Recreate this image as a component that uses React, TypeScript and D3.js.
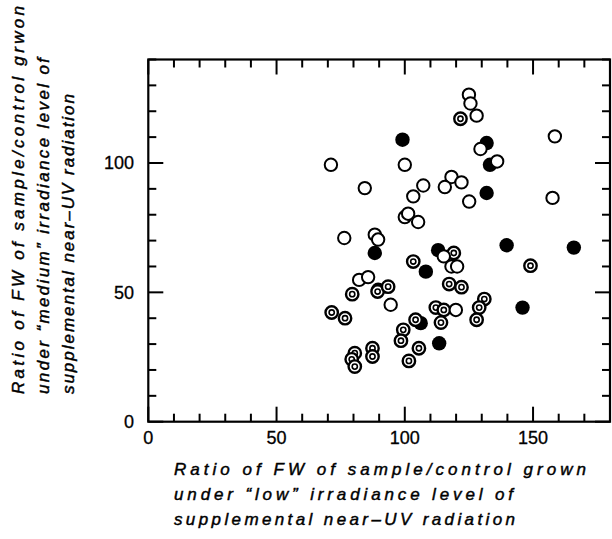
import React from "react";
import * as d3 from "d3";

const openPts: [number, number][] = [
  [71.2, 99.3], [84.4, 90.3], [76.4, 71.0], [88.3, 72.3], [89.6, 70.4],
  [100.0, 99.3], [107.2, 91.3], [103.3, 87.1], [100.0, 79.1], [101.3, 80.4],
  [105.2, 77.2], [125.0, 126.4], [125.6, 123.0], [128.0, 118.3], [129.5, 105.4],
  [136.0, 100.6], [118.2, 94.6], [122.1, 92.5], [115.6, 90.7], [125.1, 85.1],
  [158.5, 110.3], [157.6, 86.5], [115.2, 63.9], [118.2, 60.0], [120.4, 60.0],
  [119.9, 43.2], [82.2, 54.8], [85.7, 55.9], [94.5, 45.2],
];

const filledPts: [number, number][] = [
  [99.1, 109.0], [131.9, 107.7], [133.2, 99.3], [131.9, 88.4], [88.3, 65.2],
  [113.0, 66.3], [139.7, 68.2], [165.9, 67.3], [108.2, 58.0], [145.9, 44.1],
  [113.4, 30.3], [106.2, 38.1], [89.6, 51.0],
];

const doublePts: [number, number][] = [
  [121.7, 117.1], [119.1, 65.2], [103.3, 61.9], [117.3, 53.2], [122.1, 52.0],
  [149.0, 60.3], [131.0, 47.4], [129.0, 44.1], [128.0, 39.4], [112.1, 44.1],
  [115.2, 43.2], [114.1, 38.3], [104.2, 39.4], [99.4, 35.5], [98.5, 31.3],
  [105.5, 28.4], [101.6, 23.5], [87.4, 28.4], [87.4, 25.2], [79.5, 49.3],
  [89.4, 50.3], [93.5, 52.2], [71.5, 42.2], [76.7, 40.0], [80.5, 26.5],
  [79.3, 24.1], [80.5, 21.3],
];

const xTickLabels = [0, 50, 100, 150];
const yTickLabels = [0, 50, 100];
const xTitle = [
  "Ratio of FW of sample/control grown",
  "under \u201clow\u201d irradiance level of",
  "supplemental near\u2013UV radiation",
];
const xTitleWidths = [412, 339, 341];
const yTitle = [
  "Ratio of FW of sample/control grwon",
  "under \u201cmedium\u201d irradiance level of",
  "supplemental near\u2013UV radiation",
];
const yTitleWidths = [388, 336, 300];

const W = 612;
const H = 539;
const left = 148.3;
const right = 610;
const top = 59.5;
const bottom = 421.7;

export default function App() {
  const x = d3.scaleLinear().domain([0, 180]).range([left, right]);
  const y = d3.scaleLinear().domain([0, 140]).range([bottom, top]);
  const xTicks = d3.range(0, 181, 10);
  const yTicks = d3.range(0, 141, 10);
  const font = "'Liberation Sans', Arial, Helvetica, sans-serif";
  const R = 6.2;

  return (
    <svg
      width={W}
      height={H}
      style={{ position: "absolute", left: 0, top: 0, background: "#fff" }}
      fontFamily={font}
    >
      <rect x={0} y={0} width={W} height={H} fill="#fff" />
      <rect
        x={left}
        y={top}
        width={right - left}
        height={bottom - top}
        fill="none"
        stroke="#000"
        strokeWidth={2.2}
      />
      {xTicks.map((t) => {
        const len = t % 50 === 0 ? 15 : 8;
        return (
          <g key={"xt" + t}>
            <line x1={x(t)} x2={x(t)} y1={bottom} y2={bottom - len} stroke="#000" strokeWidth={2} />
            <line x1={x(t)} x2={x(t)} y1={top} y2={top + len} stroke="#000" strokeWidth={2} />
          </g>
        );
      })}
      {yTicks.map((t) => {
        const len = t % 50 === 0 ? 15 : 8;
        return (
          <g key={"yt" + t}>
            <line x1={left} x2={left + len} y1={y(t)} y2={y(t)} stroke="#000" strokeWidth={2} />
            <line x1={right} x2={right - len} y1={y(t)} y2={y(t)} stroke="#000" strokeWidth={2} />
          </g>
        );
      })}
      {xTickLabels.map((t) => (
        <text key={"xl" + t} x={x(t)} y={444} textAnchor="middle" fontSize={18} stroke="#000" strokeWidth={0.3}>
          {t}
        </text>
      ))}
      {yTickLabels.map((t) => (
        <text key={"yl" + t} x={134} y={y(t)} dy="0.36em" textAnchor="end" fontSize={18} stroke="#000" strokeWidth={0.3}>
          {t}
        </text>
      ))}
      {xTitle.map((s, i) => (
        <text
          key={"xtt" + i}
          x={174}
          y={475 + i * 25}
          fontSize={17}
          fontStyle="italic"
          stroke="#000"
          strokeWidth={0.45}
          textLength={xTitleWidths[i]}
          lengthAdjust="spacing"
        >
          {s}
        </text>
      ))}
      {yTitle.map((s, i) => (
        <text
          key={"ytt" + i}
          transform={`translate(${23.5 + i * 25},394) rotate(-90)`}
          x={0}
          y={0}
          fontSize={17}
          fontStyle="italic"
          stroke="#000"
          strokeWidth={0.45}
          textLength={yTitleWidths[i]}
          lengthAdjust="spacing"
        >
          {s}
        </text>
      ))}
      {filledPts.map((p, i) => (
        <circle key={"f" + i} cx={x(p[0])} cy={y(p[1])} r={R + 1} fill="#000" />
      ))}
      {doublePts.map((p, i) => (
        <g key={"d" + i}>
          <circle cx={x(p[0])} cy={y(p[1])} r={R} fill="#fff" stroke="#000" strokeWidth={2.4} />
          <circle cx={x(p[0])} cy={y(p[1])} r={2.6} fill="#fff" stroke="#000" strokeWidth={1.6} />
        </g>
      ))}
      {openPts.map((p, i) => (
        <circle key={"o" + i} cx={x(p[0])} cy={y(p[1])} r={R} fill="#fff" stroke="#000" strokeWidth={2} />
      ))}
    </svg>
  );
}
